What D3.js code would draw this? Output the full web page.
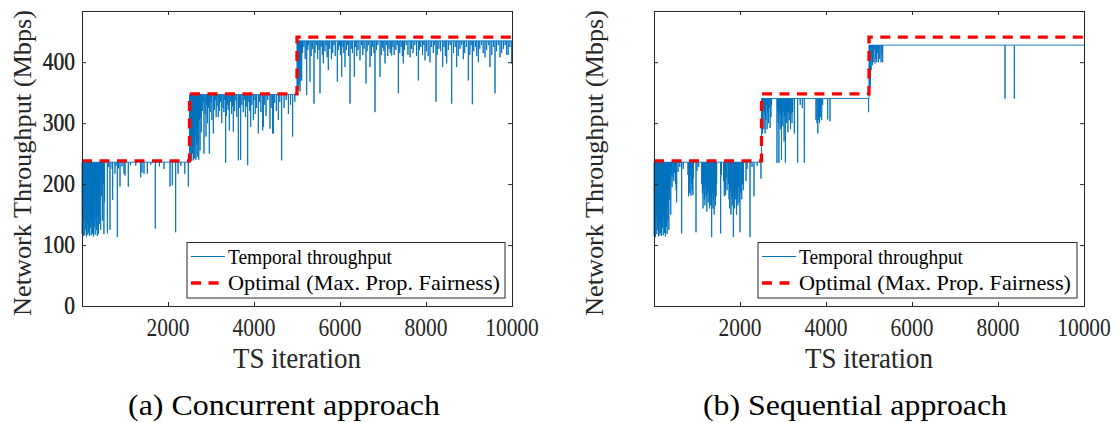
<!DOCTYPE html>
<html><head><meta charset="utf-8">
<script src="https://cdn.jsdelivr.net/npm/d3@7"></script>
<style>
html,body{margin:0;padding:0;background:#fff;}
svg{display:block;}
</style></head>
<body>
<svg id="chart" width="1120" height="423" font-family="Liberation Serif"></svg>
<script>
// ---------------- DATA ----------------
const xTicks = [2000, 4000, 6000, 8000, 10000];
const yTicks = [0, 100, 200, 300, 400];
const phaseStarts = [0, 2500, 5000];
const optimalLevels = [238, 348, 441];
const concLevels = [236, 347, 435];
const seqLevels = [236, 340.5, 428];
const legendLabels = ["Temporal throughput", "Optimal (Max. Prop. Fairness)"];
const captions = ["(a) Concurrent approach", "(b) Sequential approach"];
const xTitle = "TS iteration";
const yTitle = "Network Throughput (Mbps)";

// dips of the concurrent run: [iteration, throughput]
const concDips = [
[5,118],[15,200],[25,130],[35,115],[45,170],[55,140],[65,116],[75,190],[85,125],[95,150],[105,114],[115,180],[125,135],[135,117],[145,160],[155,120],[165,205],[175,115],[185,145],[195,128],[205,175],[215,116],[225,138],[235,195],[245,119],[255,150],[265,114],[275,185],[285,130],[295,160],[305,117],[315,200],[325,140],[335,125],[345,170],[355,115],[365,210],[375,150],[385,118],[395,190],[405,135],[420,205],[435,125],[450,180],[465,214],[480,140],[495,200],[510,118],[525,170],
[590,119],[620,228],[651,125],[700,225],[713,174],[767,217],[790,230],[822,113],[850,226],[884,196],[930,229],[977,217],[1000,214],[1077,196],[1130,231],[1250,230],[1365,211],[1395,219],[1442,217],[1519,217],[1600,232],[1705,127],[1800,229],[1907,225],[2047,196],[2100,198],[2178,121],[2235,217],[2300,230],[2390,217],[2473,196],
[2510,240],[2520,300],[2530,245],[2540,270],[2550,238],[2560,320],[2570,250],[2580,290],[2590,239],[2600,260],[2610,310],[2620,242],[2630,280],[2640,300],[2650,240],[2660,265],[2670,325],[2680,245],[2690,295],[2700,270],[2715,240],[2730,305],[2745,255],[2760,310],[2775,285],
[2800,320],[2820,335],[2837,250],[2860,315],[2884,278],[2900,330],[2920,300],[2940,325],[2961,250],[2980,318],[3000,335],[3020,305],[3054,283],[3080,322],[3100,338],[3120,310],[3140,328],[3170,310],[3200,320],[3220,335],[3250,300],[3280,325],[3300,318],[3320,338],[3341,235],[3360,312],[3380,330],[3400,322],[3426,288],[3450,335],[3480,315],[3500,328],[3519,286],[3550,320],[3580,337],[3600,310],[3636,239],[3660,325],[3690,240],[3720,330],[3750,318],[3780,338],[3800,310],[3830,327],[3853,231],[3880,335],[3900,320],[3923,294],[3950,330],[3985,305],[4000,338],[4030,315],[4060,325],[4101,283],[4130,335],[4160,318],[4202,288],[4217,294],[4250,330],[4280,312],[4320,338],[4372,291],[4400,325],[4434,283],[4450,283],[4480,333],[4520,320],[4566,305],[4600,335],[4643,239],[4700,325],[4750,338],[4800,315],[4850,330],[4899,278],[4950,335],
[5010,350],[5020,380],[5030,355],[5040,400],[5050,365],[5060,390],[5070,352],[5080,410],[5090,370],[5100,395],[5109,370],[5130,415],[5160,425],[5190,405],[5225,346],[5250,420],[5270,428],[5302,368],[5330,410],[5360,422],[5395,332],[5420,415],[5450,428],[5480,405],[5510,420],[5535,349],[5560,425],[5590,412],[5612,398],[5650,418],[5680,428],[5700,408],[5728,387],[5760,422],[5800,405],[5830,415],[5860,428],[5890,410],[5938,368],[5960,420],[5990,427],[6010,412],[6039,376],[6070,425],[6090,415],[6116,392],[6150,420],[6180,428],[6200,410],[6233,332],[6260,422],[6290,415],[6333,376],[6360,425],[6390,410],[6420,420],[6465,403],[6500,428],[6530,412],[6560,422],[6605,365],[6630,418],[6660,428],[6698,392],[6730,410],[6760,425],[6790,415],[6814,318],[6850,420],[6880,428],[6930,376],[6960,412],[6990,424],[7020,418],[7047,398],[7080,428],[7110,410],[7140,422],[7170,415],[7202,411],[7230,425],[7260,412],[7300,420],[7330,428],[7357,349],[7390,415],[7420,425],[7450,410],[7473,398],[7500,420],[7540,428],[7580,412],[7630,408],[7660,422],[7700,415],[7740,428],[7780,410],[7822,370],[7850,420],[7880,425],[7920,412],[7950,428],[7977,403],[8010,418],[8050,410],[8093,400],[8130,425],[8170,415],[8200,428],[8233,335],[8260,412],[8300,422],[8340,418],[8388,392],[8420,425],[8450,410],[8481,398],[8520,420],[8560,428],[8597,332],[8640,415],[8680,425],[8713,392],[8750,410],[8790,422],[8830,428],[8868,405],[8900,415],[8940,425],[8985,370],[9020,412],[9050,428],[9078,331],[9110,418],[9150,425],[9180,410],[9217,400],[9250,422],[9290,428],[9330,415],[9372,408],[9410,420],[9450,428],[9488,392],[9530,412],[9570,425],[9605,349],[9640,418],[9680,428],[9721,408],[9760,415],[9800,422],[9840,428],[9876,412],[9910,412],[9950,425],[9992,398]
];

// dips of the sequential run: [iteration, throughput]
const seqDips = [
[5,115],[15,190],[25,130],[35,113],[45,175],[55,145],[65,118],[75,200],[85,125],[95,160],[105,114],[115,185],[125,135],[135,116],[145,165],[155,120],[165,210],[175,115],[185,140],[195,128],[205,180],[215,116],[225,150],[235,195],[245,120],[255,155],[265,114],[275,170],[285,130],[295,200],[305,118],[315,160],[325,140],[335,190],[345,125],[360,175],[375,205],[390,150],[405,215],[420,195],[440,212],[460,205],[480,218],[500,200],[515,190],
[527,170],[560,220],[600,228],[643,119],[680,225],
[790,215],[805,180],[815,200],[830,185],[845,215],[860,181],[875,200],[890,190],[905,182],[915,210],
[977,121],[1000,222],[1040,228],
[1109,200],[1125,185],[1140,160],[1155,190],[1170,175],[1185,165],[1200,195],[1215,180],[1230,155],[1245,185],[1260,170],[1275,190],[1290,160],[1305,180],[1320,165],[1341,113],[1355,185],[1370,160],[1385,175],[1400,150],[1415,190],[1430,165],[1445,180],[1457,200],
[1550,119],[1570,215],
[1620,205],[1635,180],[1650,195],[1665,182],[1680,210],[1700,190],
[1729,200],[1745,175],[1760,160],[1775,190],[1790,150],[1805,180],[1820,165],[1845,113],[1860,185],[1875,160],[1890,175],[1905,190],[1920,150],[1935,180],[1950,165],[1965,195],[1980,170],[2000,121],[2020,185],[2040,175],[2060,200],[2078,190],
[2140,205],[2165,225],[2233,113],[2280,228],[2326,180],[2400,230],[2488,209],
[2510,300],[2525,283],[2540,320],[2555,290],[2570,315],[2585,283],[2600,305],[2615,330],[2630,290],[2645,318],[2660,300],[2680,325],[2700,292],[2720,310],[2735,330],
[2860,235],[2875,320],[2890,300],[2905,235],[2920,315],[2935,290],[2950,320],[2965,240],[2980,310],[2995,295],[3010,318],[3025,270],[3040,312],[3055,235],[3070,320],[3085,300],[3100,316],[3115,285],[3130,318],[3145,305],[3160,320],[3175,290],[3190,315],[3210,300],[3226,318],
[3264,283],[3341,235],[3400,330],[3450,325],[3496,235],
[3767,305],[3790,300],[3810,283],[3830,305],[3850,300],[3870,310],[3900,305],[3922,330],
[4039,306],[4093,303],[4990,318],
[5010,345],[5020,380],[5030,360],[5040,400],[5050,387],[5060,410],[5080,395],[5100,400],[5120,420],[5140,398],[5160,405],[5180,400],[5200,415],[5220,400],[5250,405],[5280,400],[5300,412],[5318,400],
[8163,340],[8380,340]
];

// ---------------- DRAW ----------------
const svg = d3.select("#chart");
const axisColor = "#262626";
const blue = "#0072BD";
const SY = 1.17; // vertical stretch of the reference lettering

function label(parent, x, y, str, size, opts = {}) {
  const g = parent.append("g").attr("transform",
    `translate(${x},${y})` + (opts.rotate ? ` rotate(${opts.rotate})` : "") + (opts.sy ? ` scale(1,${opts.sy})` : ""));
  const t = g.append("text").attr("x", 0).attr("y", 0)
    .attr("font-family", "Liberation Serif")
    .style("font-family", '"Liberation Serif"')
    .style("font-size", size + "px")
    .attr("fill", opts.fill || axisColor)
    .attr("text-anchor", opts.anchor || "start").text(str);
  if (opts.len) t.attr("textLength", opts.len).attr("lengthAdjust", "spacingAndGlyphs");
  return t;
}

const panels = [
  {x0: 82, x1: 512, levels: concLevels, dips: concDips, legend: {x: 187, y: 242.5, w: 318, h: 55.5},
   yTitleX: 31, caption: captions[0], capX: 284, capLen: 312},
  {x0: 654, x1: 1084, levels: seqLevels, dips: seqDips, legend: {x: 758, y: 242.5, w: 319, h: 55.5},
   yTitleX: 603, caption: captions[1], capX: 855, capLen: 304}
];
const yTop = 11, yBot = 306;

function levelAt(levels, it) {
  let k = 0;
  for (let i = 0; i < phaseStarts.length; i++) if (it >= phaseStarts[i]) k = i;
  return levels[k];
}

function buildSeries(levels, dips) {
  const events = [];
  phaseStarts.forEach((s, i) => {
    if (i > 0) events.push([s, levels[i - 1]]);
    events.push([s, levels[i]]);
  });
  dips.forEach(d => {
    const L = levelAt(levels, d[0]);
    events.push([Math.max(0, d[0] - 1.5), L]);
    events.push([d[0], d[1]]);
    events.push([d[0] + 1.5, L]);
  });
  events.push([10000, levels[levels.length - 1]]);
  return events.map((e, i) => [e[0], e[1], i]).sort((a, b) => a[0] - b[0] || a[2] - b[2]);
}

panels.forEach(p => {
  const x = d3.scaleLinear().domain([0, 10000]).range([p.x0, p.x1]);
  const y = d3.scaleLinear().domain([0, 484]).range([yBot, yTop]);
  const g = svg.append("g");

  const line = d3.line().x(d => x(d[0])).y(d => y(d[1]));
  g.append("path")
    .attr("d", line(buildSeries(p.levels, p.dips))).attr("fill", "none")
    .attr("stroke", blue).attr("stroke-width", 0.9);

  const opt = [];
  phaseStarts.forEach((s, i) => {
    if (i > 0) opt.push([s, optimalLevels[i - 1]]);
    opt.push([s, optimalLevels[i]]);
  });
  opt.push([10000, optimalLevels[optimalLevels.length - 1]]);
  g.append("path").attr("d", line(opt)).attr("fill", "none")
    .attr("stroke", "#FF0000").attr("stroke-width", 3.3).attr("stroke-dasharray", "10,7.5");

  // axes: box with inward ticks on all sides
  const axB = d3.axisBottom(x).tickValues(xTicks).tickSize(-4).tickFormat("");
  const axT = d3.axisTop(x).tickValues(xTicks).tickSize(-4).tickFormat("");
  const axL = d3.axisLeft(y).tickValues(yTicks).tickSize(-4).tickFormat("");
  const axR = d3.axisRight(y).tickValues(yTicks).tickSize(-4).tickFormat("");
  const gb = g.append("g").attr("transform", `translate(0,${yBot})`).call(axB);
  const gt = g.append("g").attr("transform", `translate(0,${yTop})`).call(axT);
  const gl = g.append("g").attr("transform", `translate(${p.x0},0)`).call(axL);
  const gr = g.append("g").attr("transform", `translate(${p.x1},0)`).call(axR);
  [gb, gt, gl, gr].forEach(a => {
    a.attr("font-family", null).attr("font-size", null);
    a.select(".domain").attr("stroke", axisColor).attr("stroke-width", 1);
    a.selectAll(".tick line").attr("stroke", axisColor);
  });

  // tick labels
  xTicks.forEach(v => label(g, x(v), 335.5, d3.format("d")(v), 21.5, {anchor: "middle", sy: SY}));
  yTicks.forEach(v => label(g, 75, y(v) + 8.3, d3.format("d")(v), 21.5, {anchor: "end", sy: SY}));

  // axis titles
  label(g, (p.x0 + p.x1) / 2, 367.5, xTitle, 26, {anchor: "middle", sy: SY, len: 128});
  label(g, p.yTitleX, 163, yTitle, 26, {anchor: "middle", rotate: -90, len: 306});

  // legend
  const L = p.legend;
  g.append("rect").attr("x", L.x).attr("y", L.y).attr("width", L.w).attr("height", L.h)
    .attr("fill", "#fff").attr("stroke", axisColor).attr("stroke-width", 1);
  g.append("line").attr("x1", L.x + 4).attr("x2", L.x + 38).attr("y1", L.y + 14).attr("y2", L.y + 14)
    .attr("stroke", blue).attr("stroke-width", 1);
  g.append("line").attr("x1", L.x + 4).attr("x2", L.x + 38).attr("y1", L.y + 40.5).attr("y2", L.y + 40.5)
    .attr("stroke", "#FF0000").attr("stroke-width", 3.3).attr("stroke-dasharray", "10,7.5");
  label(g, L.x + 41, L.y + 21, legendLabels[0], 19.2, {fill: "#000", sy: 1.12, len: 164});
  label(g, L.x + 41, L.y + 47.5, legendLabels[1], 19.2, {fill: "#000", sy: 1.12, len: 272});

  // caption
  label(g, p.capX, 415, p.caption, 30, {anchor: "middle", fill: "#000", len: p.capLen});
});
</script>
</body></html>
